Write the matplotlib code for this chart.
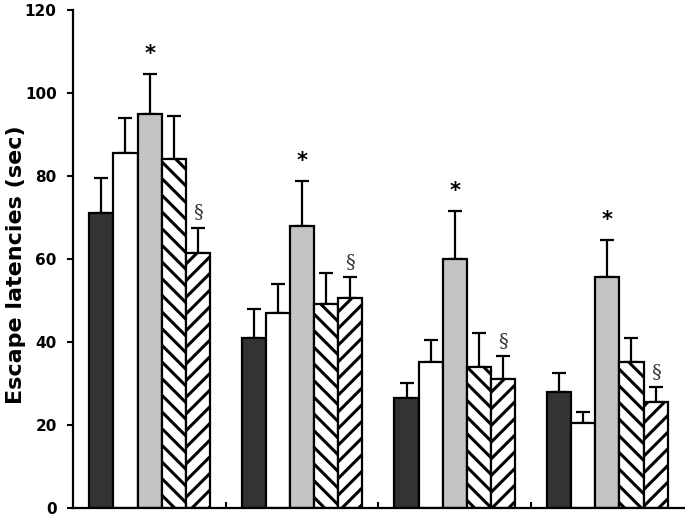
import numpy as np
import matplotlib
matplotlib.use("Agg")
import matplotlib.pyplot as plt

plt.rcParams.update({
    "font.family": "sans-serif", "font.size": 11,
    "hatch.linewidth": 2.2, "hatch.color": "black",
})

# four trial days, five groups each
days = ["Day 1", "Day 2", "Day 3", "Day 4"]
black_mean = [71, 41, 26.5, 28]
black_err = [8.5, 7, 3.5, 4.5]
white_mean = [85.5, 47, 35, 20.5]
white_err = [8.5, 7, 5.5, 2.5]
gray_mean = [95, 68, 60, 55.5]
gray_err = [9.5, 10.7, 11.5, 9]
back_mean = [84, 49, 34, 35]
back_err = [10.5, 7.5, 8, 6]
fwd_mean = [61.5, 50.5, 31, 25.5]
fwd_err = [6, 5, 5.5, 3.5]

series = [
    (black_mean, black_err, dict(color="#333333")),
    (white_mean, white_err, dict(color="white")),
    (gray_mean, gray_err, dict(color="#c4c4c4")),
    (back_mean, back_err, dict(color="white", hatch="\\\\")),
    (fwd_mean, fwd_err, dict(color="white", hatch="//")),
]

fig = plt.figure(figsize=(6.85, 5.17), dpi=100)
ax = fig.add_axes([0.107, 0.018, 0.891, 0.963])

x = np.arange(len(days))
w = 0.158
for i, (m, e, style) in enumerate(series):
    pos = x + (i - 2) * w
    ax.bar(pos, m, width=w, edgecolor="black", linewidth=1.6, zorder=2, **style)
    ax.errorbar(pos, m, yerr=[np.zeros(len(m)), e], fmt="none", ecolor="black",
                elinewidth=1.6, capsize=5, capthick=1.6, zorder=1)

# significance marks
for j in range(len(days)):
    ax.text(x[j], gray_mean[j] + gray_err[j] + 2.5, "*", ha="center", va="bottom",
            fontsize=15, fontweight="bold")
    ax.text(x[j] + 2 * w, fwd_mean[j] + fwd_err[j] + 1.5, "§", ha="center", va="bottom",
            fontsize=14, family="DejaVu Serif", color="#333333")

ax.set_xlim(-0.5, 3.5)
ax.set_ylim(0, 120)
ax.set_yticks(range(0, 121, 20))
ax.set_yticklabels([str(v) for v in range(0, 121, 20)], fontweight="bold", fontsize=11)
ax.set_xticks([0.5, 1.5, 2.5])
ax.set_xticklabels([])
ax.tick_params(axis="x", direction="in", length=4, width=1.5)
ax.tick_params(axis="y", direction="out", length=4, width=1.5, pad=8)
for s in ["top", "right"]:
    ax.spines[s].set_visible(False)
for s in ["left", "bottom"]:
    ax.spines[s].set_linewidth(1.6)
ax.set_ylabel("Escape latencies (sec)", fontsize=16, fontweight="bold")
ax.yaxis.set_label_coords(-0.077, 0.488)

fig.savefig("out.png", dpi=100)
